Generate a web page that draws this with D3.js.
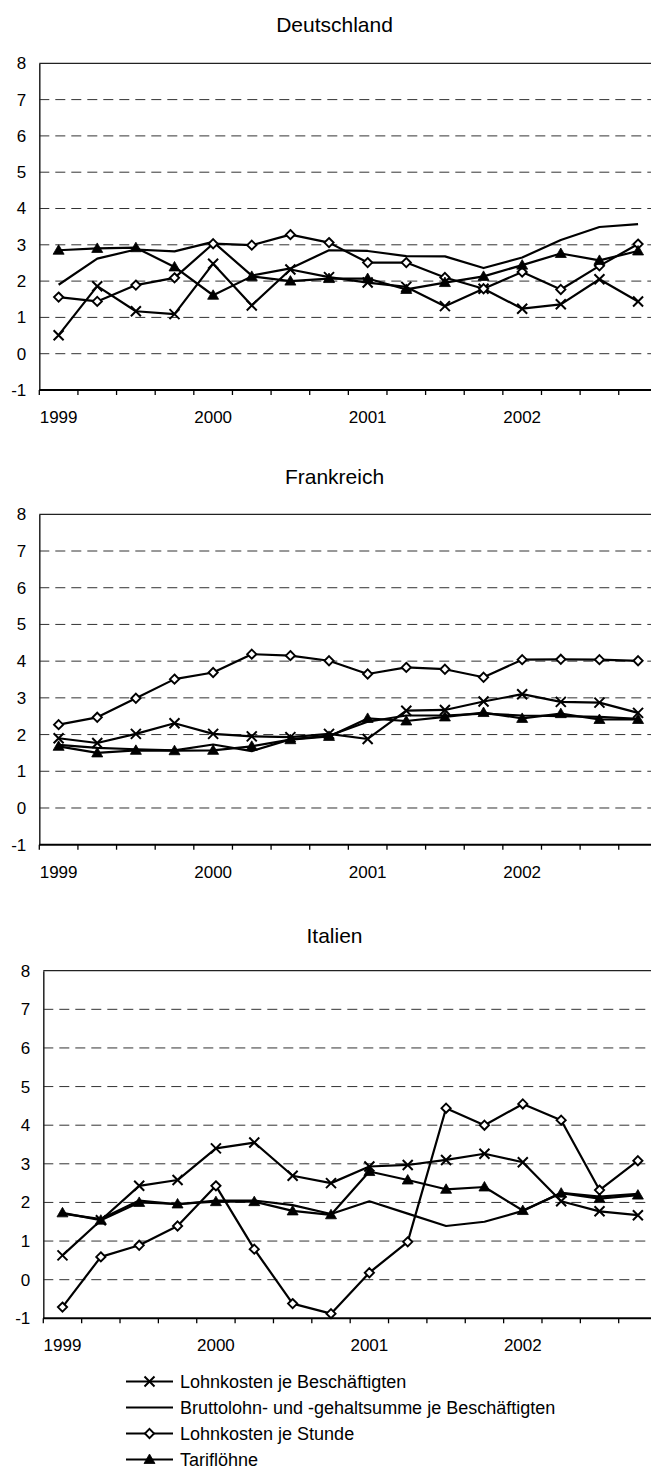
<!DOCTYPE html>
<html><head><meta charset="utf-8">
<script src="https://cdn.jsdelivr.net/npm/d3@7"></script>
<style>
html,body{margin:0;padding:0;background:#fff;}
svg{display:block;}
text{font-family:"Liberation Sans",Arial,sans-serif;fill:#000;}
</style></head>
<body>
<svg id="chart" width="651" height="1470"></svg>
<script>
// ---------------- DATA ----------------
const quarters = ["1999 Q1","1999 Q2","1999 Q3","1999 Q4","2000 Q1","2000 Q2","2000 Q3","2000 Q4",
                  "2001 Q1","2001 Q2","2001 Q3","2001 Q4","2002 Q1","2002 Q2","2002 Q3","2002 Q4"];
const yearLabels = ["1999","2000","2001","2002"];
const yTickValues = [-1,0,1,2,3,4,5,6,7,8];
const yTickLabels = ["-1","0","1","2","3","4","5","6","7","8"];
const seriesNames = ["Lohnkosten je Beschäftigten","Bruttolohn- und -gehaltsumme je Beschäftigten","Lohnkosten je Stunde","Tariflöhne"];
const countryNames = ["Deutschland","Frankreich","Italien"];

const deLohnBesch = [0.51,1.86,1.17,1.09,2.48,1.33,2.32,2.11,1.96,1.84,1.31,1.79,1.24,1.36,2.05,1.44];
const deBrutto    = [1.90,2.62,2.87,2.82,3.08,2.15,2.35,2.85,2.83,2.69,2.68,2.36,2.65,3.13,3.49,3.57];
const deStunde    = [1.56,1.44,1.89,2.09,3.03,2.99,3.28,3.06,2.51,2.51,2.10,1.79,2.25,1.77,2.42,3.02];
const deTarif     = [2.85,2.90,2.92,2.39,1.61,2.13,2.00,2.07,2.07,1.77,1.96,2.13,2.44,2.76,2.57,2.83];

const frLohnBesch = [1.90,1.77,2.02,2.31,2.02,1.95,1.93,2.02,1.88,2.65,2.67,2.90,3.10,2.89,2.87,2.59];
const frBrutto    = [1.72,1.64,1.60,1.57,1.73,1.55,1.87,1.97,2.35,2.52,2.52,2.57,2.52,2.50,2.48,2.43];
const frStunde    = [2.27,2.47,2.99,3.51,3.69,4.19,4.15,4.01,3.65,3.83,3.78,3.56,4.04,4.05,4.04,4.01];
const frTarif     = [1.68,1.50,1.57,1.56,1.57,1.68,1.86,1.95,2.44,2.37,2.48,2.60,2.44,2.57,2.41,2.41];

const itLohnBesch = [0.63,1.54,2.43,2.58,3.40,3.55,2.69,2.50,2.93,2.97,3.10,3.26,3.04,2.03,1.77,1.67];
const itBrutto    = [1.71,1.57,2.05,1.95,2.05,2.05,1.93,1.70,2.03,1.71,1.39,1.50,1.78,2.25,2.15,2.22];
const itStunde    = [-0.71,0.59,0.89,1.39,2.43,0.79,-0.62,-0.88,0.18,0.98,4.44,4.00,4.55,4.13,2.32,3.08];
const itTarif     = [1.73,1.54,2.00,1.96,2.02,2.02,1.78,1.68,2.80,2.58,2.34,2.40,1.79,2.24,2.10,2.19];

// ---------------- LAYOUT ----------------
const panels = [
  {name:countryNames[0], series:[deLohnBesch,deBrutto,deStunde,deTarif], left:39.3, step:38.63, top:63.3, bottom:390,   titleY:31.7},
  {name:countryNames[1], series:[frLohnBesch,frBrutto,frStunde,frTarif], left:39.3, step:38.63, top:514.3, bottom:844.7, titleY:484},
  {name:countryNames[2], series:[itLohnBesch,itBrutto,itStunde,itTarif], left:43.3, step:38.36, top:970.7, bottom:1318.3, titleY:943.3}
];
const markers = ["x","none","diamond","triangle"];

const svg = d3.select("#chart");
svg.append("rect").attr("width",651).attr("height",1470).attr("fill","#fff");

function drawMarker(g, type, x, y) {
  if (type === "x") {
    g.append("path").attr("d",`M${x-5},${y-5}L${x+5},${y+5}M${x-5},${y+5}L${x+5},${y-5}`)
      .attr("stroke","#000").attr("stroke-width",2).attr("fill","none");
  } else if (type === "diamond") {
    g.append("path").attr("d",`M${x},${y-4.6}L${x+4.6},${y}L${x},${y+4.6}L${x-4.6},${y}Z`)
      .attr("stroke","#000").attr("stroke-width",1.9).attr("fill","#fff");
  } else if (type === "triangle") {
    g.append("path").attr("d",`M${x},${y-5.5}L${x+5.5},${y+4}L${x-5.5},${y+4}Z`)
      .attr("fill","#000").attr("stroke","#000").attr("stroke-width",0.8);
  }
}

panels.forEach(p => {
  const g = svg.append("g");
  const x = d3.scaleBand().domain(quarters).range([p.left, p.left + 16*p.step]).paddingInner(0).paddingOuter(0);
  const y = d3.scaleLinear().domain([-1,8]).range([p.bottom, p.top]);
  const cx = q => x(q) + x.bandwidth()/2;

  g.append("text").attr("x",334.5).attr("y",p.titleY).attr("text-anchor","middle")
    .attr("font-size",21).text(p.name);

  g.selectAll(".grid").data(yTickValues.filter(v => v > -1 && v < 8)).enter().append("line")
    .attr("x1",p.left).attr("x2",p.left+16*p.step)
    .attr("y1",d=>y(d)).attr("y2",d=>y(d))
    .attr("stroke","#333").attr("stroke-width",1).attr("stroke-dasharray","10,6");
  g.append("line").attr("x1",p.left).attr("x2",p.left+16*p.step).attr("y1",y(8)).attr("y2",y(8))
    .attr("stroke","#222").attr("stroke-width",1.3);

  const yAxis = d3.axisLeft(y).tickValues(yTickValues).tickSize(0).tickPadding(13)
    .tickFormat(d => yTickLabels[yTickValues.indexOf(d)]);
  const ya = g.append("g").attr("transform",`translate(${p.left},0)`).call(yAxis);
  ya.select(".domain").attr("stroke","#222").attr("stroke-width",1.5);
  ya.selectAll("text").attr("font-size",17).attr("font-family","Liberation Sans, Arial, sans-serif").attr("fill","#000");

  const xa = g.append("g").attr("transform",`translate(0,${p.bottom})`);
  xa.append("line").attr("x1",p.left).attr("x2",p.left+16*p.step).attr("stroke","#000").attr("stroke-width",2);
  const tickPos = d3.range(0,17).map(i => i===16 ? p.left+16*p.step : x(quarters[i]));
  xa.selectAll(".tk").data(tickPos).enter().append("line")
    .attr("x1",d=>d).attr("x2",d=>d).attr("y1",0).attr("y2",5).attr("stroke","#000").attr("stroke-width",1.3);
  xa.selectAll(".yl").data(yearLabels).enter().append("text")
    .attr("x",(d,i)=>cx(quarters[i*4])).attr("y",33).attr("text-anchor","middle")
    .attr("font-size",17).text(d=>d);

  const line = d3.line().x((d,i)=>cx(quarters[i])).y(d=>y(d));
  p.series.forEach((s, k) => {
    g.append("path").datum(s).attr("d",line).attr("fill","none").attr("stroke","#000")
      .attr("stroke-width",2.2).attr("stroke-linejoin","round");
  });
  p.series.forEach((s, k) => {
    s.forEach((v,i) => drawMarker(g, markers[k], cx(quarters[i]), y(v)));
  });
});

// legend
const lg = svg.append("g");
seriesNames.forEach((name, k) => {
  const base = 1388 + k*26;
  const ly = base - 6.5;
  lg.append("line").attr("x1",126).attr("x2",173).attr("y1",ly).attr("y2",ly).attr("stroke","#000").attr("stroke-width",2.2);
  drawMarker(lg, markers[k], 149.5, ly);
  lg.append("text").attr("x",180).attr("y",base).attr("font-size",18).text(name);
});
</script>
</body></html>
